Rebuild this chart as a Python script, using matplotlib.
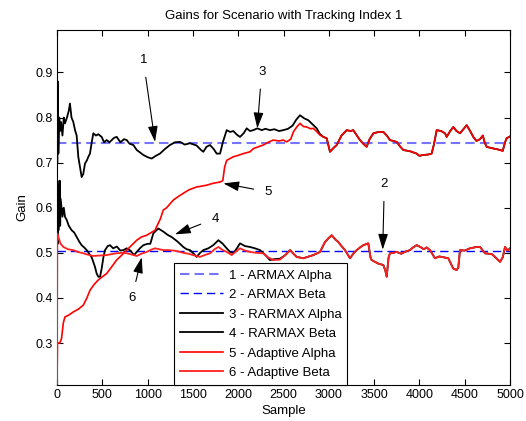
import matplotlib
matplotlib.use("Agg")
import matplotlib.pyplot as plt
import numpy as np

plt.rcParams['font.family'] = ['Liberation Sans', 'DejaVu Sans']

title = 'Gains for Scenario with Tracking Index 1'
xlabel = 'Sample'
ylabel = 'Gain'
legend_labels = ['1 - ARMAX Alpha', '2 - ARMAX Beta', '3 - RARMAX Alpha',
                 '4 - RARMAX Beta', '5 - Adaptive Alpha', '6 - Adaptive Beta']

armax_alpha = 0.744
armax_beta = 0.505

# RARMAX alpha (black) up to where it merges with adaptive alpha
rarmax_alpha_s = [0, 3, 8, 15, 25, 33, 45, 60, 75, 88, 110, 130, 143, 160, 180, 199, 217, 235,
                  254, 272, 290, 309, 330, 346, 364, 383, 401, 430, 456, 493, 520, 548, 580, 604,
                  630, 659, 700, 740, 769, 800, 843, 880, 920, 953, 1000, 1045, 1090, 1137, 1190,
                  1247, 1300, 1358, 1410, 1468, 1540, 1590, 1615, 1650, 1689, 1730, 1762, 1800,
                  1830, 1873, 1910, 1946, 1985, 2020, 2060, 2094, 2130, 2167, 2211, 2260, 2300,
                  2350, 2400, 2450, 2498, 2550, 2600, 2640, 2682, 2730, 2774, 2820, 2866, 2903]
rarmax_alpha_v = [0.99, 0.70, 0.88, 0.72, 0.80, 0.77, 0.79, 0.76, 0.80, 0.787, 0.80, 0.815, 0.831,
                  0.80, 0.79, 0.772, 0.76, 0.713, 0.69, 0.668, 0.675, 0.698, 0.705, 0.713, 0.72,
                  0.745, 0.765, 0.76, 0.763, 0.757, 0.745, 0.75, 0.745, 0.75, 0.755, 0.757, 0.745,
                  0.752, 0.75, 0.742, 0.739, 0.728, 0.722, 0.717, 0.712, 0.709, 0.715, 0.72, 0.73,
                  0.739, 0.745, 0.746, 0.74, 0.743, 0.738, 0.728, 0.724, 0.735, 0.739, 0.73, 0.72,
                  0.72, 0.745, 0.772, 0.768, 0.77, 0.762, 0.757, 0.765, 0.776, 0.77, 0.772, 0.776,
                  0.772, 0.775, 0.772, 0.774, 0.770, 0.772, 0.775, 0.782, 0.795, 0.805, 0.798,
                  0.794, 0.785, 0.776, 0.763]

# RARMAX beta (black) up to where it merges with adaptive beta
rarmax_beta_s = [0, 4, 8, 12, 16, 20, 25, 30, 35, 40, 50, 60, 75, 88, 107, 130, 162, 190, 217, 245,
                 272, 300, 328, 355, 383, 419, 438, 456, 475, 493, 512, 530, 560, 585, 620, 660,
                 700, 732, 770, 810, 850, 880, 915, 953, 1000, 1030, 1063, 1118, 1174, 1220, 1266,
                 1330, 1394, 1430, 1468, 1510, 1541, 1580, 1615, 1670, 1725, 1781, 1830, 1873,
                 1910, 1946, 1985, 2020, 2075, 2130, 2185, 2241, 2300, 2351, 2400, 2461, 2520]
rarmax_beta_v = [0.47, 0.66, 0.52, 0.65, 0.55, 0.64, 0.58, 0.66, 0.56, 0.62, 0.60, 0.58, 0.60, 0.58,
                 0.573, 0.56, 0.55, 0.545, 0.535, 0.525, 0.517, 0.512, 0.506, 0.498, 0.49, 0.469,
                 0.454, 0.447, 0.447, 0.465, 0.49, 0.506, 0.515, 0.517, 0.51, 0.514, 0.505, 0.506,
                 0.51, 0.505, 0.495, 0.502, 0.51, 0.517, 0.52, 0.52, 0.543, 0.554, 0.547, 0.54,
                 0.535, 0.525, 0.513, 0.508, 0.506, 0.498, 0.491, 0.5, 0.506, 0.51, 0.517, 0.528,
                 0.52, 0.51, 0.502, 0.499, 0.51, 0.521, 0.515, 0.513, 0.51, 0.506, 0.495, 0.484,
                 0.486, 0.487, 0.495]

# Adaptive alpha (red)
adapt_alpha_s = [0, 5, 30, 50, 70, 88, 130, 180, 235, 290, 330, 364, 410, 456, 500, 548, 600, 658,
                 710, 769, 820, 880, 930, 990, 1040, 1082, 1100, 1140, 1174, 1210, 1284, 1340, 1394,
                 1460, 1541, 1600, 1652, 1720, 1799, 1830, 1850, 1873, 1946, 2000, 2056, 2130, 2167,
                 2220, 2277, 2330, 2387, 2450, 2498, 2535, 2580, 2609, 2650, 2682, 2720, 2756, 2800,
                 2829, 2870, 2903, 2940, 2977, 3000, 3013, 3050, 3087, 3140, 3198, 3240, 3270, 3310,
                 3344, 3380, 3418, 3450, 3492, 3550, 3602, 3640, 3675, 3710, 3749, 3790, 3823, 3900,
                 3970, 4000, 4043, 4100, 4135, 4160, 4191, 4240, 4283, 4301, 4340, 4374, 4410, 4448,
                 4490, 4522, 4560, 4595, 4630, 4669, 4700, 4720, 4742, 4800, 4850, 4890, 4920, 4945,
                 4963, 5000]
adapt_alpha_v = [0.21, 0.30, 0.30, 0.31, 0.345, 0.358, 0.362, 0.369, 0.375, 0.384, 0.40, 0.417,
                 0.43, 0.44, 0.447, 0.454, 0.468, 0.484, 0.494, 0.506, 0.516, 0.528, 0.535, 0.539,
                 0.545, 0.55, 0.558, 0.575, 0.595, 0.600, 0.617, 0.625, 0.632, 0.64, 0.646, 0.648,
                 0.65, 0.654, 0.657, 0.66, 0.69, 0.705, 0.713, 0.716, 0.72, 0.724, 0.731, 0.735,
                 0.739, 0.745, 0.75, 0.748, 0.75, 0.746, 0.752, 0.768, 0.78, 0.787, 0.78, 0.779,
                 0.775, 0.776, 0.768, 0.761, 0.757, 0.754, 0.735, 0.724, 0.732, 0.739, 0.76, 0.772,
                 0.77, 0.772, 0.76, 0.75, 0.742, 0.735, 0.752, 0.765, 0.768, 0.768, 0.76, 0.75,
                 0.748, 0.746, 0.735, 0.728, 0.725, 0.72, 0.715, 0.717, 0.718, 0.72, 0.74, 0.772,
                 0.77, 0.765, 0.757, 0.77, 0.779, 0.77, 0.765, 0.775, 0.783, 0.77, 0.757, 0.748,
                 0.752, 0.76, 0.745, 0.735, 0.732, 0.73, 0.728, 0.726, 0.745, 0.754, 0.758]

# Adaptive beta (red)
adapt_beta_s = [0, 3, 15, 40, 70, 120, 180, 230, 290, 340, 401, 470, 548, 600, 659, 720, 769, 830,
                880, 930, 990, 1040, 1082, 1130, 1174, 1230, 1290, 1340, 1394, 1450, 1504, 1578,
                1630, 1689, 1740, 1781, 1830, 1873, 1928, 1975, 2020, 2075, 2130, 2200, 2277, 2330,
                2387, 2461, 2520, 2572, 2610, 2645, 2719, 2780, 2829, 2903, 2958, 3000, 3032, 3070,
                3105, 3140, 3179, 3234, 3270, 3308, 3345, 3381, 3436, 3460, 3473, 3510, 3547, 3602,
                3625, 3639, 3660, 3675, 3710, 3749, 3800, 3850, 3896, 3930, 3970, 4010, 4050, 4080,
                4117, 4172, 4220, 4270, 4319, 4350, 4374, 4411, 4429, 4440, 4448, 4500, 4558, 4632,
                4669, 4724, 4800, 4834, 4890, 4920, 4945, 4975, 5000]
adapt_beta_v = [0.21, 0.543, 0.535, 0.52, 0.513, 0.508, 0.506, 0.502, 0.499, 0.496, 0.493, 0.494,
                0.495, 0.497, 0.499, 0.5, 0.499, 0.496, 0.493, 0.498, 0.502, 0.507, 0.51, 0.508,
                0.506, 0.506, 0.505, 0.503, 0.5, 0.498, 0.495, 0.491, 0.495, 0.499, 0.508, 0.513,
                0.506, 0.502, 0.495, 0.503, 0.51, 0.505, 0.502, 0.5, 0.499, 0.49, 0.484, 0.485,
                0.495, 0.506, 0.498, 0.491, 0.488, 0.492, 0.495, 0.502, 0.524, 0.533, 0.539, 0.53,
                0.524, 0.515, 0.506, 0.488, 0.498, 0.506, 0.512, 0.517, 0.521, 0.49, 0.484, 0.48,
                0.476, 0.473, 0.46, 0.447, 0.49, 0.499, 0.5, 0.502, 0.498, 0.503, 0.506, 0.512,
                0.517, 0.513, 0.508, 0.512, 0.506, 0.488, 0.492, 0.49, 0.488, 0.475, 0.465, 0.462,
                0.467, 0.49, 0.506, 0.505, 0.51, 0.513, 0.513, 0.499, 0.497, 0.491, 0.48, 0.49,
                0.513, 0.505, 0.51]

# annotations: (label, text position, arrow tip) in data coords
annot_labels = ['1', '2', '3', '4', '5', '6']
annot_text_xy = [(953, 0.927), (3613, 0.652), (2259, 0.901), (1744, 0.576), (2332, 0.635), (824, 0.399)]
annot_tip_xy = [(1082, 0.746), (3595, 0.507), (2211, 0.776), (1302, 0.541), (1836, 0.654), (935, 0.490)]

xlim = (0, 5000)
ylim = (0.207, 0.994)
xticks = list(range(0, 5001, 500))
yticks = [0.3, 0.4, 0.5, 0.6, 0.7, 0.8, 0.9]

fig = plt.figure(figsize=(5.26, 4.21), dpi=100)
ax = fig.add_axes([57/526, 1-385/421, 453/526, 355/421])

# full black series: own values then merged with red tails
ra_s = np.array(rarmax_alpha_s, float)
ra_v = np.array(rarmax_alpha_v, float)
aa_s = np.array(adapt_alpha_s, float)
aa_v = np.array(adapt_alpha_v, float)
m = aa_s > ra_s[-1]
ra_s = np.concatenate([ra_s, aa_s[m]])
ra_v = np.concatenate([ra_v, aa_v[m]])

rb_s = np.array(rarmax_beta_s, float)
rb_v = np.array(rarmax_beta_v, float)
ab_s = np.array(adapt_beta_s, float)
ab_v = np.array(adapt_beta_v, float)
m = ab_s > rb_s[-1]
rb_s = np.concatenate([rb_s, ab_s[m]])
rb_v = np.concatenate([rb_v, ab_v[m]])

l1, = ax.plot(xlim, [armax_alpha, armax_alpha], color='#7575ff', lw=1.5, dashes=(4.5, 2.5), zorder=2)
l2, = ax.plot(xlim, [armax_beta, armax_beta], color='#0000ff', lw=1.0, dashes=(6, 3.5), zorder=2)
l3, = ax.plot(ra_s, ra_v, color='black', lw=1.3, zorder=3)
l4, = ax.plot(rb_s, rb_v, color='black', lw=1.3, zorder=3)
l5, = ax.plot(aa_s, aa_v, color='#ff0000', lw=1.2, zorder=4)
l6, = ax.plot(ab_s, ab_v, color='#ff2020', lw=1.3, zorder=4)
ax.set_xlim(*xlim)
ax.set_ylim(*ylim)
ax.set_xticks(xticks)
ax.set_yticks(yticks)
ax.set_yticklabels([f'{t:.1f}' for t in yticks])
ax.tick_params(direction='in', length=4, width=0.8, top=True, right=True, labelsize=9, pad=3)
for sp in ax.spines.values():
    sp.set_linewidth(0.8)

ax.set_title(title, fontsize=9.5, pad=8)
ax.set_xlabel(xlabel, fontsize=9.5, labelpad=3)
ax.set_ylabel(ylabel, fontsize=9.5, labelpad=5)

for lab, txy, tip in zip(annot_labels, annot_text_xy, annot_tip_xy):
    ax.annotate(lab, xy=tip, xytext=txy, ha='center', va='center', fontsize=9.5, zorder=6,
                arrowprops=dict(arrowstyle='-|>,head_length=0.8,head_width=0.25', color='black',
                                lw=0.8, shrinkA=6, shrinkB=0, mutation_scale=12))

leg = ax.legend([l1, l2, l3, l4, l5, l6], legend_labels, loc='lower left',
                bbox_to_anchor=(0.258, 0.0), borderaxespad=0, fontsize=9.5,
                fancybox=False, framealpha=1, edgecolor='black', handlelength=3.3,
                labelspacing=0.55, handletextpad=0.4, borderpad=0.45)
leg.get_frame().set_linewidth(0.8)
leg.set_zorder(7)

fig.savefig('out.png', dpi=100)
